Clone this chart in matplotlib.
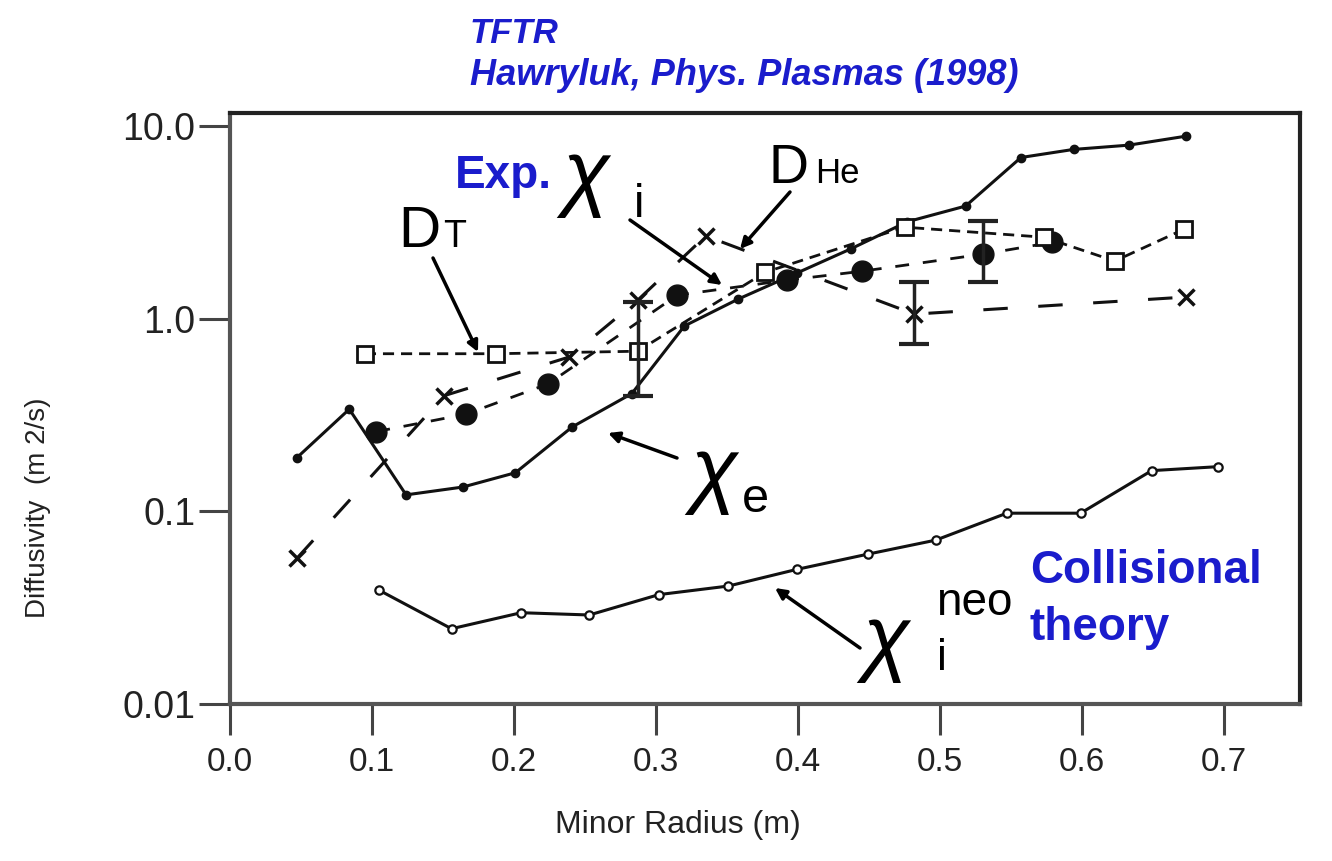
import matplotlib
matplotlib.use('Agg')
import matplotlib.pyplot as plt

# electron heat diffusivity (solid line, small dots)
chi_e_r = [0.047, 0.084, 0.124, 0.164, 0.201, 0.241, 0.283, 0.320, 0.358, 0.399,
           0.437, 0.477, 0.518, 0.557, 0.594, 0.633, 0.673]
chi_e = [0.19, 0.34, 0.122, 0.134, 0.159, 0.275, 0.41, 0.92, 1.27, 1.73,
         2.31, 3.2, 3.86, 6.9, 7.6, 8.0, 8.9]

# ion heat diffusivity (dashed, big dots)
chi_i_r = [0.103, 0.166, 0.224, 0.315, 0.392, 0.445, 0.530, 0.579]
chi_i = [0.26, 0.32, 0.46, 1.33, 1.59, 1.77, 2.17, 2.5]
chi_i_err = (6, 1.56, 3.23)   # index, low, high

# tritium diffusivity (short dashes, open squares)
d_t_r = [0.095, 0.187, 0.287, 0.377, 0.475, 0.573, 0.623, 0.672]
d_t = [0.66, 0.66, 0.68, 1.75, 3.0, 2.66, 2.0, 2.93]
d_t_err = (2, 0.40, 1.22)

# helium diffusivity (long dashes, x)
d_he_r = [0.047, 0.151, 0.239, 0.287, 0.335, 0.482, 0.673]
d_he = [0.057, 0.40, 0.635, 1.25, 2.7, 1.06, 1.3]
d_he_err = (5, 0.74, 1.56)

# neoclassical ion diffusivity (solid, open circles)
neo_r = [0.105, 0.156, 0.205, 0.253, 0.302, 0.351, 0.399, 0.449, 0.497,
         0.547, 0.599, 0.649, 0.696]
neo = [0.039, 0.0246, 0.0298, 0.029, 0.037, 0.041, 0.050, 0.060, 0.071,
       0.098, 0.098, 0.163, 0.171]

yticks = [0.01, 0.1, 1.0, 10.0]
ytick_labels = ['0.01', '0.1', '1.0', '10.0']
xticks = [0.0, 0.1, 0.2, 0.3, 0.4, 0.5, 0.6, 0.7]

W, H = 1332, 861
BLUE = '#1a1ccc'
SANS = ['Liberation Sans', 'DejaVu Sans']
GREY = '#222222'

fig = plt.figure(figsize=(W / 100, H / 100), dpi=100)
ax = fig.add_axes([230 / W, 1 - 704 / H, 1070 / W, 591 / H])
ax.set_yscale('log')
ax.set_xlim(0, 0.7535)
ax.set_ylim(0.01, 11.75)

lc = '#111111'
ax.plot(chi_e_r, chi_e, '-', color=lc, lw=2.2, marker='o', ms=6)
ax.plot(neo_r, neo, '-', color=lc, lw=2.2, marker='o', ms=6,
        mfc='white', mew=1.6)
ax.plot(chi_i_r, chi_i, color=lc, lw=2, ls=(0, (5, 5)), marker='o', ms=15)
ax.plot(d_t_r, d_t, color=lc, lw=2, ls=(0, (4, 2.5)), marker='s', ms=12,
        mfc='white', mew=2)
ax.plot(d_he_r, d_he, color=lc, lw=2.2, ls=(0, (8, 10)), marker='x', ms=11,
        mew=2.5)

for (i, lo, hi), xs, ys in [(chi_i_err, chi_i_r, chi_i),
                           (d_t_err, d_t_r, d_t),
                           (d_he_err, d_he_r, d_he)]:
    ax.errorbar([xs[i]], [ys[i]], yerr=[[ys[i] - lo], [hi - ys[i]]],
                fmt='none', ecolor=GREY, elinewidth=2.5, capsize=11,
                capthick=3)

ax.set_xticks(xticks)
ax.set_xticklabels(['%.1f' % v for v in xticks], fontfamily=SANS,
                   fontsize=24, color=GREY)
ax.set_yticks(yticks)
ax.set_yticklabels(ytick_labels, fontfamily=SANS, fontsize=27, color=GREY)
ax.minorticks_off()
ax.tick_params(axis='both', direction='out', length=22, width=2.2,
               color='#444444')
ax.tick_params(axis='x', pad=9)
ax.tick_params(axis='y', pad=3)
for side in ['left', 'bottom']:
    ax.spines[side].set_color('#555555')
    ax.spines[side].set_linewidth(3)
for side in ['top', 'right']:
    ax.spines[side].set_color(GREY)
    ax.spines[side].set_linewidth(3)

fig.text(678 / W, 1 - 833 / H, 'Minor Radius (m)', ha='center',
         va='baseline', fontfamily=SANS, fontsize=23, color=GREY)
fig.text(38 / W, 1 - 508 / H, 'Diffusivity  (m 2/s)', ha='center',
         va='center', rotation=90, fontfamily=SANS, fontsize=20, color=GREY)


def ftext(x, y, s, **kw):
    kw.setdefault('ha', 'left')
    kw.setdefault('va', 'baseline')
    fig.text(x / W, 1 - y / H, s, **kw)


ftext(470, 43, 'TFTR', fontfamily=SANS, fontsize=25, fontweight='bold',
      fontstyle='italic', color=BLUE)
ftext(470, 85, 'Hawryluk, Phys. Plasmas (1998)', fontfamily=SANS,
      fontsize=26, fontweight='bold', fontstyle='italic', color=BLUE)
ftext(455, 188, 'Exp.', fontfamily=SANS, fontsize=33, fontweight='bold',
      color=BLUE)
ftext(1030, 583, 'Collisional', fontfamily=SANS, fontsize=33,
      fontweight='bold', color=BLUE)
ftext(1030, 640, 'theory', fontfamily=SANS, fontsize=33, fontweight='bold',
      color=BLUE)

# species labels
chi_kw = dict(fontfamily=SANS, fontstyle='italic', fontsize=62, color='k')
lab_kw = dict(fontfamily=SANS, color='k')
ftext(562, 200, '\u03c7', **chi_kw)
ftext(634, 217, 'i', fontsize=34, **lab_kw)
ftext(398, 247, 'D', fontsize=42, **lab_kw)
ftext(443, 247, 'T', fontsize=27, **lab_kw)
ftext(769, 183, 'D', fontsize=40, **lab_kw)
ftext(815, 183, 'He', fontsize=25, **lab_kw)
ftext(690, 497, '\u03c7', **chi_kw)
ftext(742, 512, 'e', fontsize=35, **lab_kw)
ftext(862, 665, '\u03c7', **chi_kw)
ftext(936, 615, 'neo', fontsize=33, **lab_kw)
ftext(937, 670, 'i', fontsize=32, **lab_kw)

# arrows from labels to curves
arrow = dict(arrowstyle='-|>', lw=2.5, color='k', mutation_scale=16,
             shrinkA=0, shrinkB=0)


def fpos(x, y):
    return (x / W, 1 - y / H)


for start, end in [((433, 258), (478, 352)),
                   ((630, 220), (722, 285)),
                   ((790, 192), (740, 249)),
                   ((677, 458), (608, 433)),
                   ((860, 648), (775, 588))]:
    ax.annotate('', xy=fpos(*end), xycoords='figure fraction',
                xytext=fpos(*start), textcoords='figure fraction',
                arrowprops=arrow)

fig.savefig('out.png', dpi=100)
